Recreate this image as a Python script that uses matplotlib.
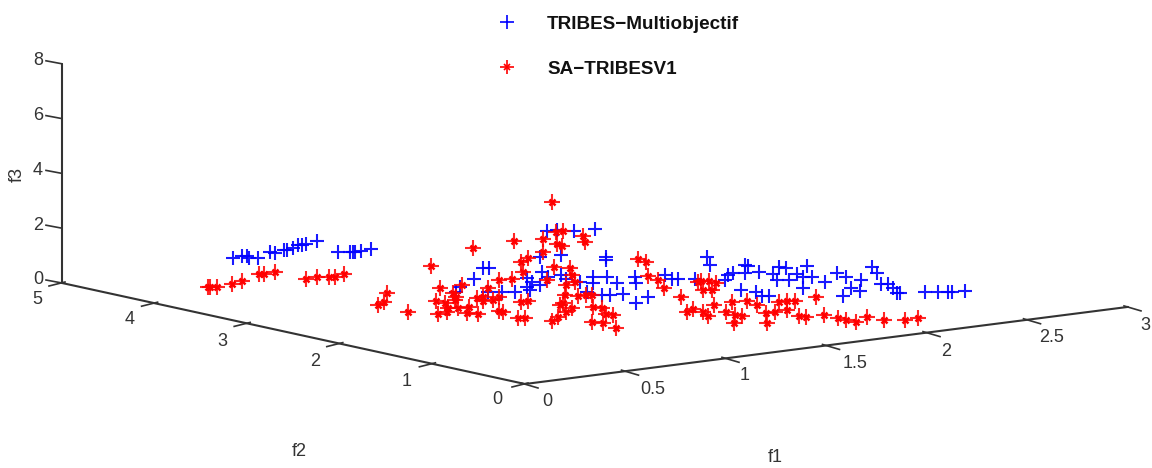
import matplotlib
matplotlib.use("Agg")
import matplotlib.pyplot as plt
from matplotlib.lines import Line2D
import numpy as np

plt.rcParams['font.family'] = ['Liberation Sans', 'DejaVu Sans']

# points (x, y in image space)
tribes_x = [233, 242, 247, 249, 258, 270, 275, 284, 287, 293, 298, 302, 306, 317, 338, 350, 353, 355, 361, 371,
            474, 483, 489, 460, 456, 488, 502, 515, 527, 532, 527, 530, 540, 540, 542, 548, 547, 557, 574, 595,
            561, 561, 566, 580, 593, 593, 607, 606, 606, 617, 623, 602, 610, 587, 635, 636, 636, 648, 665, 672,
            678, 695, 707, 710, 725, 728, 733, 745, 748, 745, 759, 741, 756, 762, 769, 773, 779, 786, 777, 789,
            797, 807, 803, 803, 812, 825, 837, 846, 861, 851, 860, 843, 872, 877, 881, 888, 893, 897, 900, 925,
            938, 948, 952, 965]
tribes_y = [258, 256, 256, 258, 258, 252, 253, 250, 250, 248, 245, 245, 244, 241, 252, 252, 252, 252, 251, 249,
            279, 268, 268, 287, 292, 292, 292, 292, 278, 282, 287, 290, 285, 257, 272, 277, 231, 230, 231, 229,
            255, 275, 279, 282, 277, 283, 277, 257, 260, 283, 294, 295, 295, 292, 277, 283, 303, 297, 275, 279,
            279, 279, 257, 265, 280, 275, 273, 265, 266, 273, 272, 290, 292, 296, 296, 274, 267, 268, 280, 280,
            274, 266, 277, 288, 277, 282, 273, 277, 280, 288, 291, 296, 267, 273, 284, 284, 288, 293, 293, 292,
            292, 292, 292, 291]

sa_x = [208, 210, 217, 232, 242, 259, 264, 275, 306, 317, 329, 335, 344, 378, 384, 387, 408, 431, 473,
        514, 552, 440, 436, 462, 453, 456, 455, 445, 448, 447, 438, 458, 467, 469, 478, 477, 483, 483, 488,
        493, 499, 499, 512, 499, 503, 518, 525, 521, 528, 521, 528, 523, 543, 543, 554, 547, 556, 563, 557,
        562, 583, 585, 570, 572, 575, 566, 565, 563, 566, 572, 560, 552, 558, 578, 586, 592, 593, 602, 606,
        613, 592, 603, 616, 638, 646, 648, 658, 664, 681, 687, 693, 698, 701, 709, 703, 712, 716, 703, 708,
        714, 726, 732, 735, 734, 742, 747, 757, 766, 767, 775, 779, 787, 787, 795, 799, 806, 816, 824, 838,
        846, 856, 867, 884, 905, 918]
sa_y = [287, 287, 287, 284, 281, 274, 274, 272, 279, 277, 277, 277, 274, 305, 302, 293, 312, 266, 248,
        241, 202, 288, 301, 285, 293, 297, 300, 303, 308, 312, 314, 308, 313, 307, 314, 298, 297, 301, 288,
        300, 297, 280, 279, 311, 312, 318, 318, 302, 301, 262, 258, 272, 239, 252, 267, 280, 232, 231, 244,
        246, 236, 242, 268, 275, 282, 285, 295, 303, 312, 308, 305, 321, 317, 296, 295, 295, 307, 308, 314,
        315, 322, 323, 328, 259, 262, 276, 280, 288, 297, 312, 309, 282, 281, 281, 290, 290, 283, 312, 316,
        305, 312, 302, 315, 323, 316, 301, 305, 313, 323, 312, 302, 310, 301, 301, 316, 317, 297, 315, 318,
        320, 322, 317, 320, 320, 318]

f1_ticks = [0, 0.5, 1, 1.5, 2, 2.5, 3]
f1_labels = ['0', '0.5', '1', '1.5', '2', '2.5', '3']
f2_ticks = [0, 1, 2, 3, 4, 5]
f3_ticks = [0, 2, 4, 6, 8]

INK = '#333333'
BLUE = '#0000ff'
RED = '#ff0000'


def f1_pos(v):
    return 525 + v * 201, 384 - v * 25.7


def f2_pos(v):
    return 525 - v * 92.6, 384 - v * 20.2


def f3_pos(v):
    return 62, 283 - v * 27.4


fig = plt.figure(figsize=(11.52, 4.68), dpi=100)
ax = fig.add_axes([0, 0, 1, 1])
ax.set_xlim(0, 1152)
ax.set_ylim(468, 0)
ax.axis('off')

# axes box edges
for pos, ticks in ((f1_pos, f1_ticks), (f2_pos, f2_ticks), (f3_pos, f3_ticks)):
    start = pos(ticks[0])
    end = pos(ticks[-1])
    ax.plot([start[0], end[0]], [start[1], end[1]], color=INK, lw=1.5, solid_capstyle='round')

for v in f1_ticks:
    x, y = f1_pos(v)
    ax.plot([x - 4, x + 13], [y - 1, y + 4], color=INK, lw=1.2)
for v in f2_ticks:
    x, y = f2_pos(v)
    ax.plot([x + 3, x - 13], [y - 1, y + 3], color=INK, lw=1.2)
for v in f3_ticks:
    x, y = f3_pos(v)
    ax.plot([x, x - 16], [y, y - 3], color=INK, lw=1.2)

# tick labels
f1_lab_x = [547, 653, 745, 855, 946, 1052, 1145]
f1_lab_y = [401, 389, 375, 363, 351, 338, 325]
for x, y, s in zip(f1_lab_x, f1_lab_y, f1_labels):
    ax.text(x, y, s, ha='center', va='center', fontsize=13, color=INK)
f2_lab_x = [497, 407, 315, 222, 130, 37]
f2_lab_y = [400, 381, 362, 341, 320, 300]
for x, y, v in zip(f2_lab_x, f2_lab_y, f2_ticks):
    ax.text(x, y, str(v), ha='center', va='center', fontsize=13, color=INK)
for v in f3_ticks:
    ax.text(38, f3_pos(v)[1] - 3, str(v), ha='center', va='center', fontsize=13, color=INK)

ax.text(775, 458, 'f1', ha='center', va='center', fontsize=13, color=INK)
ax.text(299, 451, 'f2', ha='center', va='center', fontsize=13, color=INK)
ax.text(17, 174, 'f3', ha='center', va='center', fontsize=13, color=INK, rotation=90)

# the two point clouds
ax.plot(tribes_x, tribes_y, ls='none', marker='+', ms=10.5, mew=1.5, color=BLUE, alpha=0.9, zorder=3)
ax.plot(sa_x, sa_y, ls='none', marker='+', ms=11, mew=1.5, color=RED, alpha=0.85, zorder=4)
ax.plot(sa_x, sa_y, ls='none', marker='x', ms=4.5, mew=1.8, color=RED, zorder=4)

h1 = Line2D([], [], ls='none', marker='+', ms=10, mew=1.2, color=BLUE)
h2 = (Line2D([], [], ls='none', marker='+', ms=10, mew=1.2, color=RED),
      Line2D([], [], ls='none', marker='x', ms=5, mew=1.2, color=RED))
leg = ax.legend([h1, h2], ['TRIBES\u2212Multiobjectif', 'SA\u2212TRIBESV1'],
                loc='upper left', bbox_to_anchor=(0.4139, 0.9786), frameon=False,
                prop={'size': 13.6, 'weight': 'bold'}, labelspacing=1.45,
                handletextpad=0.82, handlelength=2.6, borderpad=0.3, borderaxespad=0)
for t in leg.get_texts():
    t.set_color('#111111')

fig.savefig('out.png', dpi=100)
